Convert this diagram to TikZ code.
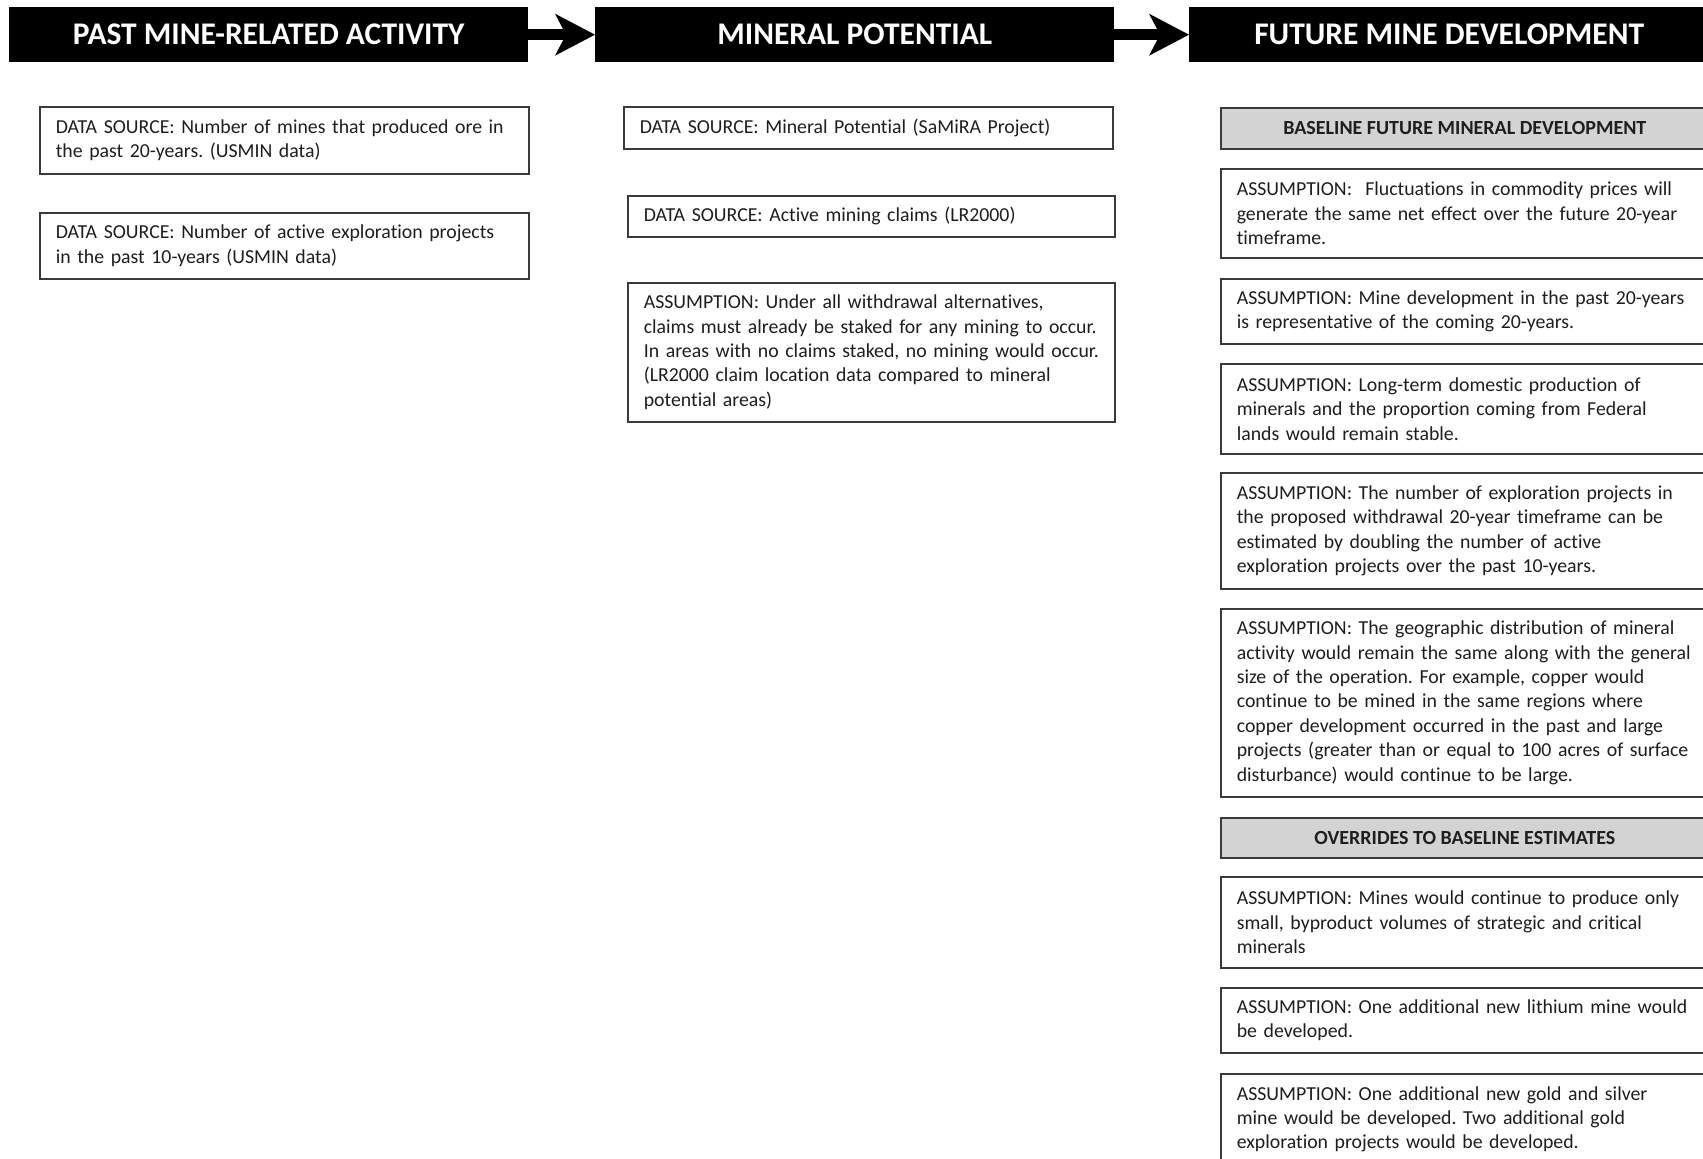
\documentclass[tikz,border=0pt]{standalone}
\usepackage{fontspec}
\setmainfont{Carlito}[Ligatures={NoCommon}]
\usetikzlibrary{arrows.meta}
\frenchspacing
\newcommand\oneline[1]{\mbox{#1}}
\definecolor{boxline}{HTML}{3A3A3A}
\definecolor{boxgray}{HTML}{D3D3D3}
\definecolor{txt}{HTML}{1E1E1E}
\begin{document}
\begin{tikzpicture}[x=1pt,y=-1pt,
  header/.style={anchor=north west,fill=black,text=white,inner sep=0pt,
    minimum width=#1,minimum height=55pt,font=\fontsize{31.5}{34}\selectfont\bfseries},
  txtbox/.style={anchor=north west,draw=boxline,line width=1.6pt,fill=white,text=txt,
    inner xsep=16pt,inner ysep=0pt,align=left,text width=#1,
    font=\fontsize{19.8}{24.4}\selectfont},
  graybox/.style={anchor=north west,draw=boxline,line width=1.6pt,fill=boxgray,text=txt,
    inner sep=0pt,minimum width=#1,font=\fontsize{20}{24}\selectfont\bfseries},
  flow/.style={line width=11pt,-{Stealth[length=40pt,width=42pt,inset=11pt,line width=0pt]}}
]
\useasboundingbox (0,0) rectangle (1703,1159);
\clip (0,0) rectangle (1703,1159);
\fill[white] (0,0) rectangle (1703,1159);

% headers
\node[header=519pt] (h1) at (9,7) {PAST MINE-RELATED ACTIVITY};
\node[header=519pt] (h2) at (595,7) {MINERAL POTENTIAL};
\node[header=520pt] (h3) at (1189,7) {FUTURE MINE DEVELOPMENT};
\draw[flow] (h1.east) -- (h2.west);
\draw[flow] (h2.east) -- (h3.west);

% left column
\node[txtbox=457pt,minimum height=67pt] (L1) at (39,106)
  {\oneline{DATA SOURCE: Number of mines that produced ore in}\\\oneline{the past 20-years. (USMIN data)}};
\node[txtbox=457pt,minimum height=66pt] (L2) at (39,212)
  {\oneline{DATA SOURCE: Number of active exploration projects}\\\oneline{in the past 10-years (USMIN data)}};

% middle column
\node[txtbox=457pt,minimum height=42pt] (M1) at (623,106)
  {\oneline{DATA SOURCE: Mineral Potential (SaMiRA Project)}};
\node[txtbox=455pt,minimum height=41pt] (M2) at (627,195)
  {\oneline{DATA SOURCE: Active mining claims (LR2000)}};
\node[txtbox=455pt,minimum height=139pt] (M3) at (627,282)
  {\oneline{ASSUMPTION: Under all withdrawal alternatives,}\\
   \oneline{claims must already be staked for any mining to occur.}\\
   \oneline{In areas with no claims staked, no mining would occur.}\\
   \oneline{(LR2000 claim location data compared to mineral}\\
   \oneline{potential areas)}};

% right column
\node[graybox=488pt,minimum height=41pt] (G1) at (1220,107) {BASELINE FUTURE MINERAL DEVELOPMENT};
\node[txtbox=456pt,minimum height=89pt] (R1) at (1220,168)
  {\oneline{ASSUMPTION:\ \ Fluctuations in commodity prices will}\\
   \oneline{generate the same net effect over the future 20-year}\\
   \oneline{timeframe.}};
\node[txtbox=456pt,minimum height=65pt] (R2) at (1220,278)
  {\oneline{ASSUMPTION: Mine development in the past 20-years}\\
   \oneline{is representative of the coming 20-years.}};
\node[txtbox=456pt,minimum height=90pt] (R3) at (1220,363)
  {\oneline{ASSUMPTION: Long-term domestic production of}\\
   \oneline{minerals and the proportion coming from Federal}\\
   \oneline{lands would remain stable.}};
\node[txtbox=456pt,minimum height=116pt] (R4) at (1220,472)
  {\oneline{ASSUMPTION: The number of exploration projects in}\\
   \oneline{the proposed withdrawal 20-year timeframe can be}\\
   \oneline{estimated by doubling the number of active}\\
   \oneline{exploration projects over the past 10-years.}};
\node[txtbox=456pt,minimum height=188pt] (R5) at (1220,608)
  {\oneline{ASSUMPTION: The geographic distribution of mineral}\\
   \oneline{activity would remain the same along with the general}\\
   \oneline{size of the operation. For example, copper would}\\
   \oneline{continue to be mined in the same regions where}\\
   \oneline{copper development occurred in the past and large}\\
   \oneline{projects (greater than or equal to 100 acres of surface}\\
   \oneline{disturbance) would continue to be large.}};
\node[graybox=488pt,minimum height=40pt] (G2) at (1220,817) {OVERRIDES TO BASELINE ESTIMATES};
\node[txtbox=456pt,minimum height=91pt] (R6) at (1220,876)
  {\oneline{ASSUMPTION: Mines would continue to produce only}\\
   \oneline{small, byproduct volumes of strategic and critical}\\
   \oneline{minerals}};
\node[txtbox=456pt,minimum height=65pt] (R7) at (1220,987)
  {\oneline{ASSUMPTION: One additional new lithium mine would}\\
   \oneline{be developed.}};
\node[txtbox=456pt,minimum height=91pt] (R8) at (1220,1073)
  {\oneline{ASSUMPTION: One additional new gold and silver}\\
   \oneline{mine would be developed. Two additional gold}\\
   \oneline{exploration projects would be developed.}};
\end{tikzpicture}
\end{document}
